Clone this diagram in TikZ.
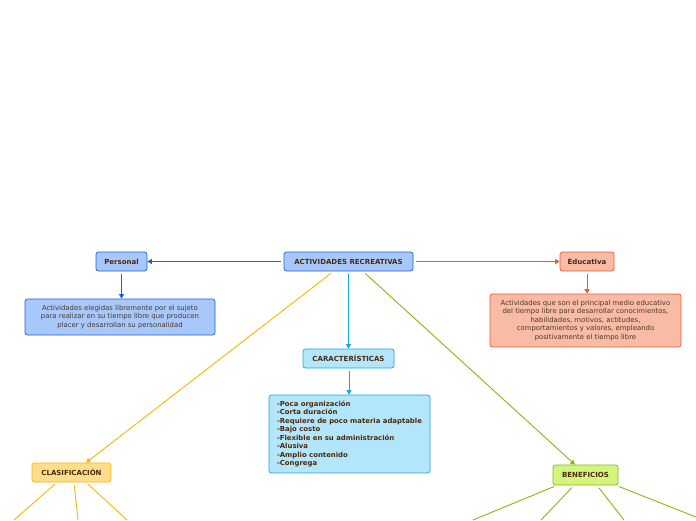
\documentclass[tikz,border=0pt]{standalone}
\usepackage{fontspec}
\setmainfont{DejaVu Sans}
\usetikzlibrary{arrows.meta}
\definecolor{txt}{HTML}{4A2A0E}
\definecolor{txtn}{HTML}{4E3A28}
\definecolor{bfill}{HTML}{A8C8FC}
\definecolor{bline}{HTML}{1F5FD6}
\definecolor{ofill}{HTML}{F8BBA6}
\definecolor{oline}{HTML}{F05A28}
\definecolor{cfill}{HTML}{B3E6FB}
\definecolor{cline}{HTML}{18A6E2}
\definecolor{yfill}{HTML}{FFDD8A}
\definecolor{yline}{HTML}{F6B800}
\definecolor{gfill}{HTML}{D4F57C}
\definecolor{gline}{HTML}{86B812}
\tikzset{
  x=1pt,y=-1pt,
  box/.style={draw, rounded corners=2.5pt, line width=0.7pt, inner sep=0pt, align=center, text=txt},
  title/.style={box, font=\fontsize{7}{8}\selectfont\bfseries},
  desc/.style={box, font=\fontsize{6.9}{8.5}\selectfont, text=txtn},
  conn/.style={line width=0.9pt, -{Triangle[length=4.5pt,width=5pt]}, shorten <=3pt},
  leaf/.style={line width=0.9pt, shorten <=3pt},
}
\begin{document}
\begin{tikzpicture}
\useasboundingbox (0,0) rectangle (696,520);
% nodes
\node[title, fill=bfill, draw=bline, minimum width=129pt, minimum height=19pt] (root) at (348.5,261.5) {ACTIVIDADES RECREATIVAS};
\node[title, fill=bfill, draw=bline, minimum width=51pt, minimum height=19pt] (pers) at (121.5,261.5) {Personal};
\node[desc, fill=bfill, draw=bline, minimum width=190pt, minimum height=36pt] (persd) at (120,317) {Actividades elegidas libremente por el sujeto\\para realizar en su tiempo libre que producen\\placer y desarrollan su personalidad};
\node[title, fill=ofill, draw=oline, minimum width=54pt, minimum height=19pt] (edu) at (587,261.5) {Educativa};
\node[desc, fill=ofill, draw=oline, minimum width=191pt, minimum height=53pt] (edud) at (585.5,320.5) {Actividades que son el principal medio educativo\\del tiempo libre para desarrollar conocimientos,\\habilidades, motivos, actitudes,\\comportamientos y valores, empleando\\positivamente el tiempo libre};
\node[title, fill=cfill, draw=cline, minimum width=91pt, minimum height=19pt] (car) at (348.5,358.5) {CARACTERÍSTICAS};
\node[box, fill=cfill, draw=cline, minimum width=161pt, minimum height=78pt, align=left, font=\fontsize{6.9}{8.5}\selectfont\bfseries] (card) at (349.5,434) {-Poca organización\\-Corta duración\\-Requiere de poco materia adaptable\\-Bajo costo\\-Flexible en su administración\\-Alusiva\\-Amplio contenido\\-Congrega};
\node[title, fill=yfill, draw=yline, minimum width=79pt, minimum height=19pt] (cla) at (71.5,472.5) {CLASIFICACIÓN};
\node[title, fill=gfill, draw=gline, minimum width=65pt, minimum height=20pt] (ben) at (585.5,475) {BENEFICIOS};
% free ends
\coordinate (c1) at (14,520);
\coordinate (c2) at (78,520);
\coordinate (c3) at (127,520);
\coordinate (b1) at (473,520);
\coordinate (b2) at (541,520);
\coordinate (b3) at (624,520);
\coordinate (b4) at (696,517);
% connectors
\draw[conn, bline] (root.west) -- (pers.east);
\draw[conn, bline] (pers.south) -- (pers.south |- persd.north);
\draw[conn, oline] (root.east) -- (edu.west);
\draw[conn, oline] (edu.south) -- (edu.south |- edud.north);
\draw[conn, cline] (root.south) -- (car.north);
\draw[conn, cline] ([xshift=0.5pt]car.south) -- ([xshift=0.5pt]car.south |- card.north);
\draw[conn, yline] ([xshift=-15pt]root.south) -- ([xshift=14.5pt]cla.north);
\draw[conn, gline] ([xshift=14.5pt]root.south) -- ([xshift=-10.5pt]ben.north);
\draw[leaf, yline] ([xshift=-14.5pt]cla.south) -- (c1);
\draw[leaf, yline] ([xshift=2.5pt]cla.south) -- (c2);
\draw[leaf, yline] ([xshift=14.5pt]cla.south) -- (c3);
\draw[leaf, gline] ([xshift=-28.5pt]ben.south) -- (b1);
\draw[leaf, gline] ([xshift=-11.5pt]ben.south) -- (b2);
\draw[leaf, gline] ([xshift=11.5pt]ben.south) -- (b3);
\draw[leaf, gline] ([xshift=30.5pt]ben.south) -- (b4);
\end{tikzpicture}
\end{document}
